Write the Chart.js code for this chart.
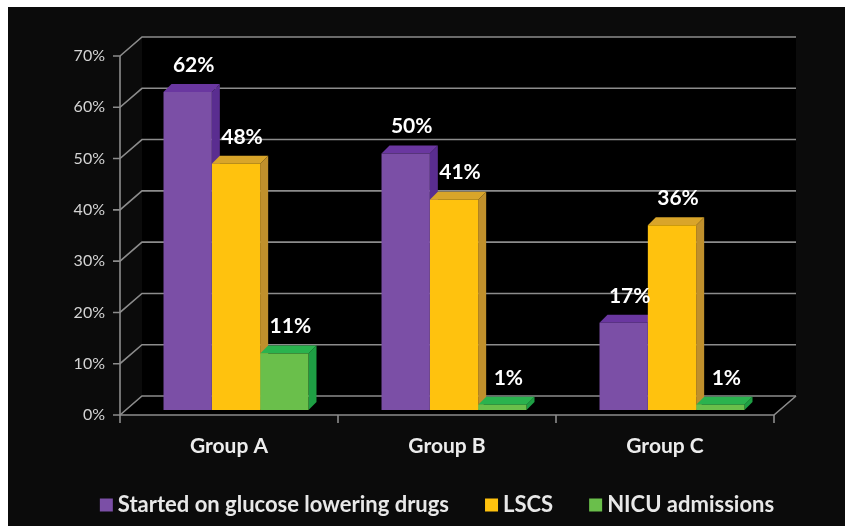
<!DOCTYPE html>
<html>
<head>
<meta charset="utf-8">
<script src="https://cdn.jsdelivr.net/npm/chart.js@4.4.1/dist/chart.umd.min.js"></script>
<style>
    html, body { margin: 0; padding: 0; background: #fff; width: 845px; height: 526px; overflow: hidden; }
    #wrap { position: absolute; left: 8px; top: 7px; width: 837px; height: 519px; background: #0b0b0b; }
</style>
</head>
<body>
<div id="wrap"><canvas id="chart" width="837" height="519"></canvas></div>
<script>
const categories = ['Group A', 'Group B', 'Group C'];
const seriesNames = ['Started on glucose lowering drugs', 'LSCS', 'NICU admissions'];
const glucoseDrugs = [62, 50, 17];
const lscs = [48, 41, 36];
const nicu = [11, 1, 1];
const yTicks = [0, 10, 20, 30, 40, 50, 60, 70];

// colours of the three faces of each box
const faces = [
    { front: '#7b4fa6', side: '#5a2d90', top: '#6a37a0' },
    { front: '#ffc20e', side: '#c0902c', top: '#d9a52a' },
    { front: '#6abf4b', side: '#1e9f44', top: '#2ab34e' }
];
const depth = { dx: 8, dy: 8 };      // bar depth
const frontOff = { dx: -7, dy: 5 };  // front edge of floor / left wall
const backOff = { dx: 15, dy: -14 }; // back wall
const gridColor = '#8c8c8c';
const FONT = 'Lato, "Open Sans", sans-serif';

function poly(ctx, pts, fill) {
    ctx.beginPath();
    ctx.moveTo(pts[0][0], pts[0][1]);
    for (let i = 1; i < pts.length; i++) ctx.lineTo(pts[i][0], pts[i][1]);
    ctx.closePath();
    ctx.fillStyle = fill;
    ctx.fill();
}

const box3d = {
    id: 'box3d',
    beforeDatasetsDraw(chart) {
        const ctx = chart.ctx;
        const { left: L, right: R, bottom: B, top: T } = chart.chartArea;
        const yScale = chart.scales.y;
        const xScale = chart.scales.x;
        ctx.save();

        // back wall + floor
        ctx.fillStyle = '#000';
        ctx.fillRect(L + backOff.dx, T + backOff.dy, R - L, B - T);
        poly(ctx, [[L + frontOff.dx, B + frontOff.dy], [R + frontOff.dx, B + frontOff.dy],
                   [R + backOff.dx, B + backOff.dy], [L + backOff.dx, B + backOff.dy]], '#000');

        ctx.strokeStyle = gridColor;
        ctx.lineWidth = 1.6;
        yTicks.forEach(v => {
            const y = yScale.getPixelForValue(v);
            ctx.beginPath();
            ctx.moveTo(L + frontOff.dx - 7, y + frontOff.dy);
            ctx.lineTo(L + frontOff.dx, y + frontOff.dy);
            ctx.lineTo(L + backOff.dx, y + backOff.dy);
            ctx.lineTo(R + backOff.dx, y + backOff.dy);
            ctx.stroke();
        });
        // left front edge and floor front edge
        ctx.beginPath();
        ctx.moveTo(L + frontOff.dx, yScale.getPixelForValue(yTicks[yTicks.length - 1]) + frontOff.dy);
        ctx.lineTo(L + frontOff.dx, B + frontOff.dy);
        ctx.lineTo(R + frontOff.dx, B + frontOff.dy);
        ctx.lineTo(R + backOff.dx, B + backOff.dy);
        ctx.stroke();
        // category ticks
        for (let i = 0; i <= categories.length; i++) {
            const x = L + i * (R - L) / categories.length + frontOff.dx;
            ctx.beginPath();
            ctx.moveTo(x, B + frontOff.dy);
            ctx.lineTo(x, B + frontOff.dy + 8);
            ctx.stroke();
        }

        // y tick labels
        ctx.fillStyle = '#d4d4d4';
        ctx.font = '16px ' + FONT;
        ctx.textAlign = 'right';
        ctx.textBaseline = 'middle';
        yTicks.forEach(v => {
            ctx.fillText(v + '%', L + frontOff.dx - 15, yScale.getPixelForValue(v) + frontOff.dy);
        });

        // category labels
        ctx.fillStyle = '#ececec';
        ctx.font = 'bold 21px ' + FONT;
        ctx.textAlign = 'center';
        categories.forEach((c, i) => {
            ctx.fillText(c, xScale.getPixelForValue(i) + frontOff.dx, B + frontOff.dy + 31);
        });

        // side and top faces of each bar
        chart.data.datasets.forEach((ds, di) => {
            const meta = chart.getDatasetMeta(di);
            meta.data.forEach(bar => {
                const x0 = bar.x - bar.width / 2;
                const x1 = bar.x + bar.width / 2;
                const yt = bar.y;
                const yb = bar.base;
                poly(ctx, [[x1, yt], [x1 + depth.dx, yt - depth.dy], [x1 + depth.dx, yb - depth.dy], [x1, yb]], faces[di].side);
                poly(ctx, [[x0, yt], [x1, yt], [x1 + depth.dx, yt - depth.dy], [x0 + depth.dx, yt - depth.dy]], faces[di].top);
            });
        });
        ctx.restore();
    },
    afterDatasetsDraw(chart) {
        const ctx = chart.ctx;
        ctx.save();
        // value labels
        ctx.fillStyle = '#ffffff';
        ctx.font = 'bold 21px ' + FONT;
        ctx.textAlign = 'center';
        ctx.textBaseline = 'middle';
        chart.data.datasets.forEach((ds, di) => {
            chart.getDatasetMeta(di).data.forEach((bar, i) => {
                ctx.fillText(ds.data[i] + '%', bar.x + 6, bar.y - 27);
            });
        });

        // legend
        ctx.font = 'bold 22px ' + FONT;
        ctx.textAlign = 'left';
        const box = 13, gapText = 5, gapItem = 36;
        const widths = chart.data.datasets.map(ds => box + gapText + ctx.measureText(ds.label).width);
        const total = widths.reduce((a, b) => a + b, 0) + gapItem * (widths.length - 1);
        let x = 429 - total / 2;
        const y = 498;
        chart.data.datasets.forEach((ds, di) => {
            ctx.fillStyle = ds.backgroundColor;
            ctx.fillRect(x, y - box / 2, box, box);
            ctx.fillStyle = '#e8e8e8';
            ctx.fillText(ds.label, x + box + gapText, y);
            x += widths[di] + gapItem;
        });
        ctx.restore();
    }
};

new Chart(document.getElementById('chart'), {
    type: 'bar',
    data: {
        labels: categories,
        datasets: [
            { label: seriesNames[0], data: glucoseDrugs, backgroundColor: faces[0].front },
            { label: seriesNames[1], data: lscs, backgroundColor: faces[1].front },
            { label: seriesNames[2], data: nicu, backgroundColor: faces[2].front }
        ]
    },
    options: {
        responsive: false,
        animation: false,
        devicePixelRatio: 1,
        layout: { padding: { left: 119, right: 64, top: 44, bottom: 116 } },
        datasets: { bar: { categoryPercentage: 0.665, barPercentage: 1, borderWidth: 0 } },
        scales: {
            x: { display: false },
            y: { display: false, min: 0, max: 70 }
        },
        plugins: {
            legend: { display: false },
            tooltip: { enabled: false }
        }
    },
    plugins: [box3d]
});
</script>
</body>
</html>
